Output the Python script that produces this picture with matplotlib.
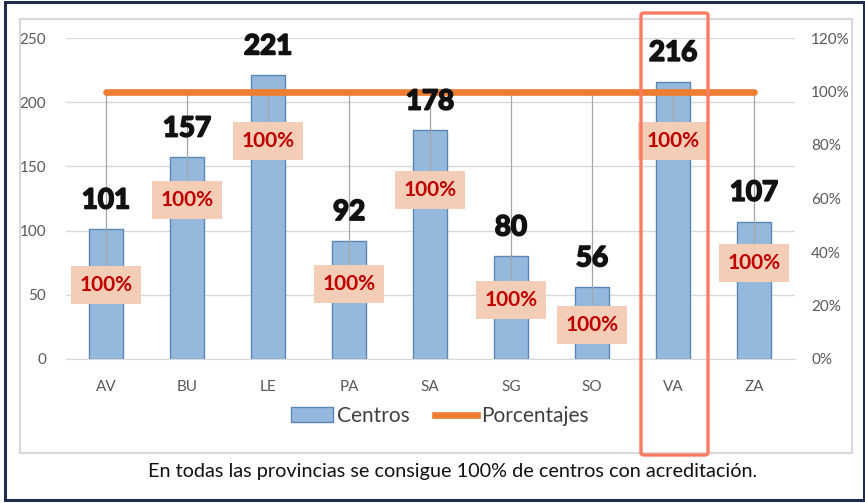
import matplotlib
matplotlib.use("Agg")
import matplotlib.pyplot as plt
import matplotlib.patheffects as pe
from matplotlib.patches import Rectangle, FancyBboxPatch, Patch
from matplotlib.lines import Line2D

plt.rcParams['font.family'] = ['Lato', 'DejaVu Sans']

provinces = ["AV", "BU", "LE", "PA", "SA", "SG", "SO", "VA", "ZA"]
centros = [101, 157, 221, 92, 178, 80, 56, 216, 107]
porcentajes = [1.0, 1.0, 1.0, 1.0, 1.0, 1.0, 1.0, 1.0, 1.0]
left_ticks = [0, 50, 100, 150, 200, 250]
right_ticks = [0, 0.2, 0.4, 0.6, 0.8, 1.0, 1.2]
right_ticklabels = ["0%", "20%", "40%", "60%", "80%", "100%", "120%"]
caption = "En todas las provincias se consigue 100% de centros con acreditación."

# label box positions (secondary axis units) - layout only
label_pos = [0.277, 0.594, 0.815, 0.280, 0.632, 0.221, 0.127, 0.815, 0.359]

W, H = 865, 503
fig = plt.figure(figsize=(W / 100, H / 100), dpi=100)

def fx(px):
    return px / W

def fy(py):
    return 1 - py / H

# outer dark border
fig.patches.append(Rectangle((fx(5), fy(500)), fx(864) - fx(5), fy(2) - fy(500),
                             transform=fig.transFigure, fill=False,
                             edgecolor="#1F2D4A", linewidth=2.2, zorder=0))
# inner chart border
fig.patches.append(Rectangle((fx(20), fy(453)), fx(852) - fx(20), fy(19) - fy(453),
                             transform=fig.transFigure, fill=False,
                             edgecolor="#D9D9D9", linewidth=1.5, zorder=0))

ax = fig.add_axes([fx(65.5), fy(359), fx(794.5) - fx(65.5), fy(38) - fy(359)])
x = list(range(len(provinces)))
ax.bar(x, centros, width=0.41, color="#95B9DD", edgecolor="#5B87B6",
       linewidth=1.0, zorder=2)
ax.set_xlim(-0.5, len(provinces) - 0.5)
ax.set_ylim(0, 250)
ax.set_yticks(left_ticks)
ax.set_xticks(x)
ax.set_xticklabels(provinces)
ax.grid(axis="y", color="#D9D9D9", linewidth=1.0, zorder=0)
ax.set_axisbelow(True)
for s in ["top", "right", "left"]:
    ax.spines[s].set_visible(False)
ax.spines["bottom"].set_color("#D9D9D9")
ax.tick_params(axis="both", length=0, labelsize=11, labelcolor="#595959")
ax.tick_params(axis="y", pad=14)
ax.tick_params(axis="x", pad=15)

ax2 = ax.twinx()
ax2.set_ylim(0, 1.2)
ax2.set_yticks(right_ticks)
ax2.set_yticklabels(right_ticklabels)
ax2.tick_params(axis="y", length=0, labelsize=11, labelcolor="#595959", pad=12)
for s in ax2.spines.values():
    s.set_visible(False)

# leader lines
for i, p in enumerate(porcentajes):
    ax2.plot([i, i], [p, label_pos[i]], color="#A6A6A6", linewidth=0.9, zorder=3)

ax2.plot(x, porcentajes, color="#ED7D31", linewidth=4.8, solid_capstyle="round",
         zorder=4)

for i, p in enumerate(porcentajes):
    ax2.text(i, label_pos[i], f"{p*100:.0f}%", ha="center", va="center",
             fontsize=15, fontweight="bold", color="#C00000", zorder=6,
             bbox=dict(boxstyle="square,pad=0.42", facecolor="#F4CDB6",
                       edgecolor="none"))

for i, v in enumerate(centros):
    ax2.text(i, v + 22.5, str(v), transform=ax.transData, ha="center",
             va="center", fontsize=20, fontweight="bold", color="#111111",
             zorder=7,
             path_effects=[pe.withStroke(linewidth=1.3, foreground="#111111")])

handles = [Patch(facecolor="#95B9DD", edgecolor="#5B87B6"),
           Line2D([0], [0], color="#ED7D31", linewidth=4.8)]
fig.legend(handles, ["Centros", "Porcentajes"], loc="center",
           bbox_to_anchor=(fx(440), fy(416)), ncol=2, frameon=False,
           fontsize=15, labelcolor="#404040", handlelength=2.0,
           handletextpad=0.2, columnspacing=1.2)

fig.text(fx(453), fy(472), caption, ha="center", va="center", fontsize=14.3,
         color="#111111")

# VA highlight box
fig.patches.append(FancyBboxPatch((fx(641), fy(455)), fx(708) - fx(641),
                                  fy(13) - fy(455),
                                  boxstyle="round,pad=0,rounding_size=0.004",
                                  transform=fig.transFigure, fill=False,
                                  edgecolor="#FF7B63", linewidth=2.4, zorder=10))

fig.savefig("out.png", dpi=100)
